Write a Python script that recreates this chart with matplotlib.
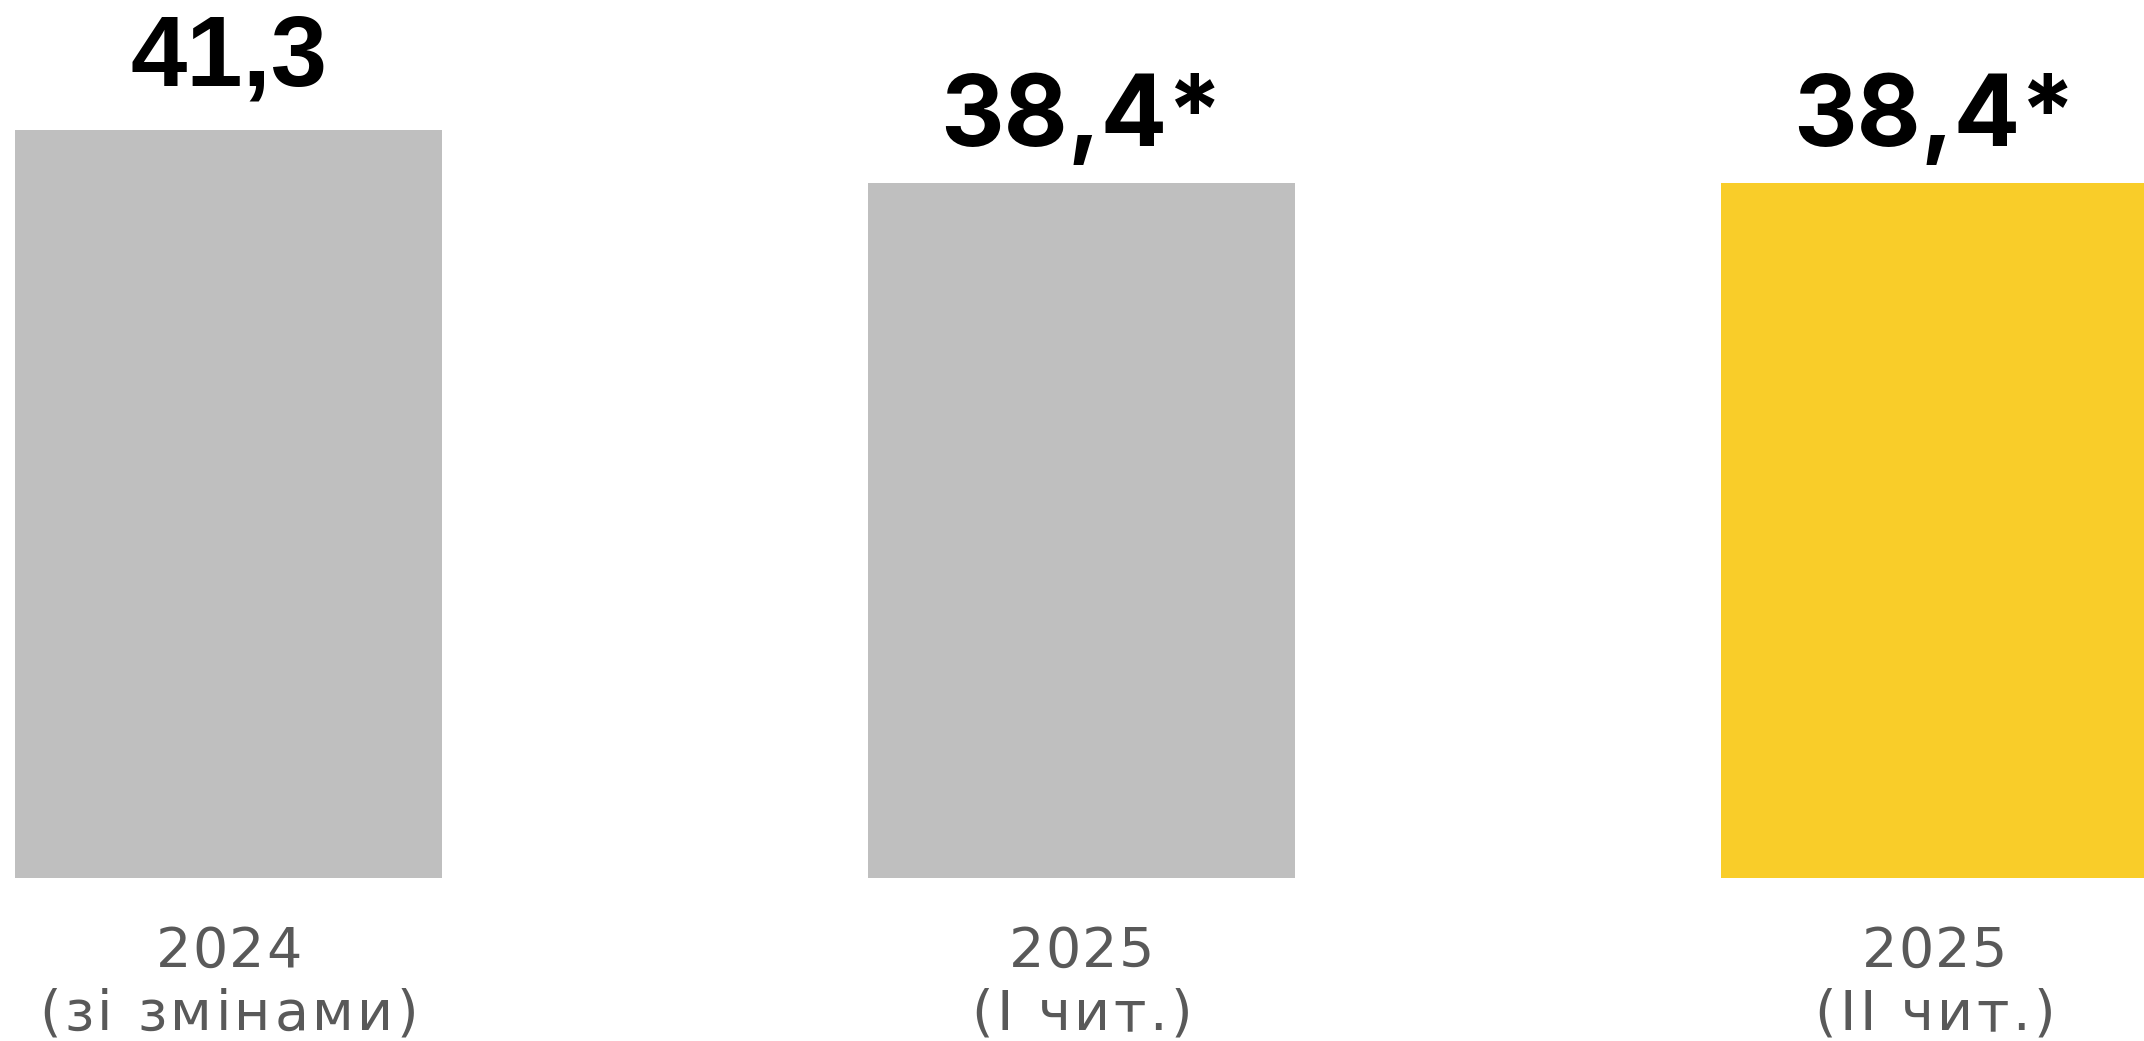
import matplotlib
matplotlib.use("Agg")
from matplotlib import pyplot as plt

# data
years = ["2024", "2025", "2025"]
notes = ["(зі змінами)", "(I чит.)", "(II чит.)"]
values = [41.3, 38.4, 38.4]
value_labels = ["41,3", "38,4*", "38,4*"]
bar_colors = ["#bfbfbf", "#bfbfbf", "#f9cd29"]

fig = plt.figure(figsize=(21.44, 10.41), dpi=100)
ax = fig.add_axes([0, 0, 1, 1])

x = list(range(len(values)))
ax.bar(x, values, width=0.5, color=bar_colors, linewidth=0)

ax.set_xlim(-0.268, 2.2456)
ax.set_ylim(-9.0, 48.48)
ax.axis("off")

fig.canvas.draw()
rend = fig.canvas.get_renderer()
label_style = dict(fontsize=40, color="#595959", family="DejaVu Sans")


def text_w(s):
    t = ax.text(0, 0, s, **label_style)
    w = t.get_window_extent(rend).width
    t.remove()
    return w


# letter-spaced label, centred on x
def tracked(xc, y, s, track=3.5):
    w0 = text_w("x")
    lefts = [text_w(s[:k] + "x") - w0 for k in range(len(s))]
    total = text_w(s) + track * (len(s) - 1)
    for k, ch in enumerate(s):
        dx = (lefts[k] + track * k - total / 2) * 72 / 100
        ax.annotate(ch, (xc, y), xytext=(dx, 0), textcoords="offset points",
                    ha="left", va="baseline", **label_style)


# first label uses a different face in the original
value_fonts = ["Liberation Sans", "Inter", "Inter"]
value_sizes = [73, 71, 71]
lift = [32, 26, 26]

for i in x:
    ax.annotate(value_labels[i], (i, values[i]), xytext=(0, lift[i]),
                textcoords="offset points", ha="center", va="baseline",
                fontsize=value_sizes[i], fontweight="bold",
                family=value_fonts[i], color="black")
    tracked(i, -4.91, years[i], track=1.5)
    tracked(i, -8.39, notes[i])

fig.savefig("out.png", dpi=100)
